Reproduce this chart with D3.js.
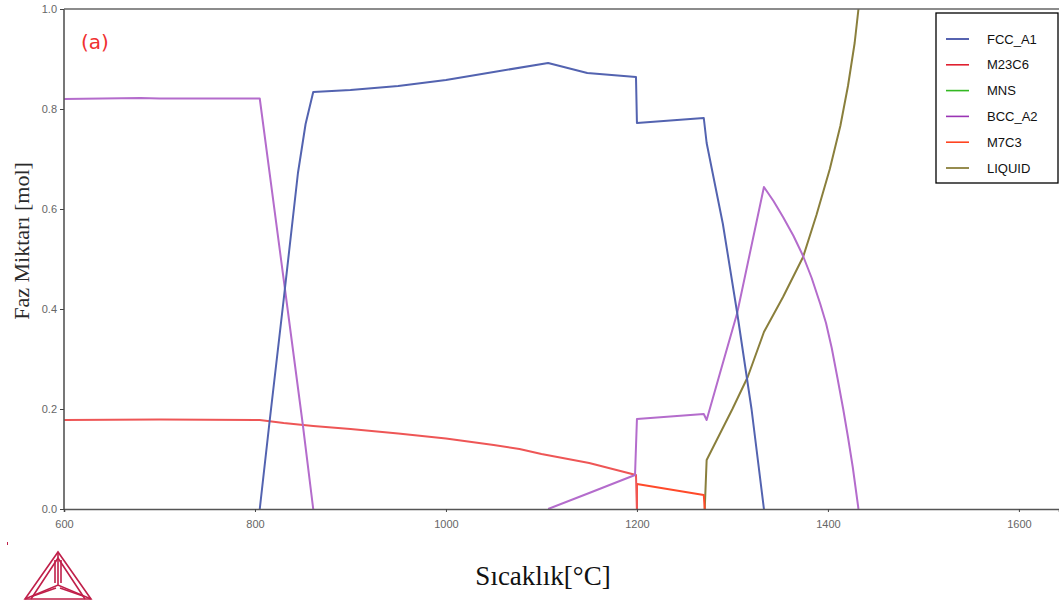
<!DOCTYPE html>
<html>
<head>
<meta charset="utf-8">
<script src="https://cdn.jsdelivr.net/npm/d3@7"></script>
<style>
  body { margin: 0; background: #fff; }
  svg { display: block; }
</style>
</head>
<body>
<svg id="chart" width="1059" height="600"></svg>
<script>
// phase amounts [temperature °C, mol]
const fcc = [[600, 0], [805, 0], [815, 0.17], [830, 0.418], [845, 0.672], [853, 0.77],
             [861, 0.834], [900, 0.838], [950, 0.846], [1000, 0.858], [1050, 0.874],
             [1107, 0.892], [1148, 0.872], [1199, 0.864], [1200, 0.772], [1270, 0.782],
             [1273, 0.732], [1290, 0.57], [1305, 0.392], [1320, 0.2], [1333, 0]];
const m23c6 = [[600, 0.178], [700, 0.179], [805, 0.178], [830, 0.172], [861, 0.166],
               [900, 0.16], [950, 0.151], [1000, 0.141], [1050, 0.128], [1077, 0.12],
               [1100, 0.11], [1150, 0.092], [1199, 0.068], [1200, 0]];
const mns = [[600, 0], [1271, 0]];
const bcc = [[600, 0.82], [680, 0.822], [700, 0.821], [805, 0.821], [830, 0.46],
             [850, 0.17], [861, 0], [1107, 0], [1150, 0.032], [1198, 0.068], [1200, 0.18],
             [1270, 0.19], [1273, 0.178], [1287, 0.272], [1305, 0.392], [1333, 0.644],
             [1343, 0.616], [1353, 0.584], [1364, 0.546], [1374, 0.506], [1383, 0.462],
             [1392, 0.41], [1398, 0.372], [1404, 0.322], [1410, 0.262], [1416, 0.2],
             [1421, 0.144], [1426, 0.084], [1432, 0]];
const m7c3 = [[600, 0], [1200, 0], [1200, 0.05], [1270, 0.028], [1271, 0]];
const liquid = [[600, 0], [1271, 0], [1273, 0.098], [1300, 0.2], [1316, 0.264],
                [1333, 0.354], [1353, 0.424], [1374, 0.504], [1388, 0.588], [1402, 0.68],
                [1413, 0.766], [1421, 0.846], [1428, 0.932], [1432, 1.0], [1435, 1.06]];

const phaseNames = ['FCC_A1', 'M23C6', 'MNS', 'BCC_A2', 'M7C3', 'LIQUID'];
const xTicks = [600, 800, 1000, 1200, 1400, 1600];
const yTicks = [0, 0.2, 0.4, 0.6, 0.8, 1.0];

const lineColors = {FCC_A1: '#5363b0', M23C6: '#ee5656', MNS: '#44bb33',
                    BCC_A2: '#b46ccc', M7C3: '#ff4a2a', LIQUID: '#8a7f3c'};
const legendColors = {FCC_A1: '#2b3c9c', M23C6: '#e02030', MNS: '#33b822',
                      BCC_A2: '#9a34b4', M7C3: '#ff4420', LIQUID: '#7c7024'};

const margin = {top: 9, right: 0, bottom: 91, left: 64},
      W = 1059, H = 600,
      width = W - margin.left - margin.right,
      height = H - margin.top - margin.bottom;

const svg = d3.select('#chart');
const g = svg.append('g')
    .attr('transform', 'translate(' + margin.left + ',' + margin.top + ')');

//--------------SCALES---------------------------------------
const x = d3.scaleLinear().domain([600, 1642]).range([0, width]);
const y = d3.scaleLinear().domain([0, 1]).range([height, 0]);

g.append('clipPath').attr('id', 'clip')
  .append('rect').attr('width', width).attr('height', height);

//--------------LINES----------------------------------------
// a phase lying on zero sits under the axis, so drop those runs
function runs(data) {
  const out = [];
  let cur = [];
  for (let i = 1; i < data.length; i++) {
    const a = data[i - 1], b = data[i];
    if (a[1] === 0 && b[1] === 0) {
      if (cur.length) out.push(cur);
      cur = [];
      continue;
    }
    if (!cur.length) cur.push(a);
    cur.push(b);
  }
  if (cur.length) out.push(cur);
  return out;
}

const line = d3.line().x(d => x(d[0])).y(d => y(d[1]));
const series = [
  {name: 'MNS', data: mns},
  {name: 'LIQUID', data: liquid},
  {name: 'M7C3', data: m7c3},
  {name: 'M23C6', data: m23c6},
  {name: 'BCC_A2', data: bcc},
  {name: 'FCC_A1', data: fcc}
];

const pieces = [];
series.forEach(s => runs(s.data).forEach(r => pieces.push({name: s.name, data: r})));

g.append('g').attr('clip-path', 'url(#clip)')
  .selectAll('path').data(pieces).join('path')
    .attr('fill', 'none')
    .attr('stroke', d => lineColors[d.name])
    .attr('stroke-width', 2)
    .attr('stroke-linejoin', 'round')
    .attr('d', d => line(d.data));

//--------------AXES----------------------------------------
const xAxis = g.append('g')
    .attr('transform', 'translate(0,' + height + ')')
    .call(d3.axisBottom(x).tickValues(xTicks).tickSize(3).tickPadding(8).tickFormat(d3.format('d')));
const yAxis = g.append('g')
    .call(d3.axisLeft(y).tickValues(yTicks).tickSize(4).tickPadding(3).tickFormat(d3.format('.1f')));

[xAxis, yAxis].forEach(a => {
  a.select('.domain').attr('stroke', '#555').attr('stroke-width', 1.6);
  a.selectAll('.tick line').attr('stroke', '#444');
  a.selectAll('.tick text')
    .attr('fill', '#666')
    .style('font-family', 'Liberation Sans, Arial, sans-serif')
    .style('font-size', '11px');
});
yAxis.select('.domain').attr('d', 'M0,' + height + 'V0');

// top frame line
g.append('line')
  .attr('x1', 0).attr('x2', width).attr('y1', 0).attr('y2', 0)
  .attr('stroke', '#666').attr('stroke-width', 1.4);

//--------------LEGEND---------------------------------------
const legend = svg.append('g').attr('transform', 'translate(936,13)');
legend.append('rect')
  .attr('width', 122).attr('height', 170)
  .attr('fill', '#fff').attr('stroke', '#000').attr('stroke-width', 1.3);
const item = legend.selectAll('g.item').data(phaseNames).join('g')
  .attr('class', 'item')
  .attr('transform', (d, i) => 'translate(0,' + (26 + i * 25.8) + ')');
item.append('line')
  .attr('x1', 10).attr('x2', 33)
  .attr('stroke', d => legendColors[d]).attr('stroke-width', 1.6);
item.append('text')
  .attr('x', 51).attr('dy', '0.35em')
  .style('font-family', 'Liberation Sans, Arial, sans-serif')
  .style('font-size', '13px')
  .attr('fill', '#111')
  .text(d => d);

//--------------LABELS---------------------------------------
svg.append('text')
  .attr('x', 81).attr('y', 49)
  .style('font-family', 'DejaVu Sans, Verdana, sans-serif')
  .style('font-size', '20px')
  .attr('fill', '#f03030')
  .text('(a)');

svg.append('text')
  .attr('transform', 'translate(29,241) rotate(-90)')
  .attr('text-anchor', 'middle')
  .style('font-family', 'Liberation Serif, Times New Roman, serif')
  .style('font-size', '22px')
  .attr('fill', '#2a2a2a')
  .text('Faz Miktarı [mol]');

svg.append('text')
  .attr('x', 543).attr('y', 585)
  .attr('text-anchor', 'middle')
  .style('font-family', 'Liberation Serif, Times New Roman, serif')
  .style('font-size', '27px')
  .attr('fill', '#111')
  .text('Sıcaklık[°C]');

// Thermo-Calc style logo, bottom left
const logo = svg.append('g')
  .attr('fill', 'none').attr('stroke', '#c0204a').attr('stroke-width', 1.6);
const apex = [58, 552], bl = [25, 599], br = [91, 599], ctr = [58, 585];
logo.append('path').attr('d', 'M' + bl + 'L' + apex + 'L' + br + 'Z');
logo.append('path').attr('d', 'M' + [31, 599] + 'L' + [58, 558] + 'L' + [85, 599]);
logo.append('path').attr('d', 'M' + apex + 'L' + ctr + 'M' + bl + 'L' + ctr + 'L' + br);
logo.append('path').attr('d', 'M' + [55, 560] + 'L' + [55, 583] + 'M' + [61, 560] + 'L' + [61, 583]);
logo.append('path').attr('d', 'M' + [33, 596] + 'L' + [56, 588] + 'M' + [83, 596] + 'L' + [60, 588]);
svg.append('rect').attr('x', 7).attr('y', 542).attr('width', 1).attr('height', 3).attr('fill', '#c0204a');
</script>
</body>
</html>
